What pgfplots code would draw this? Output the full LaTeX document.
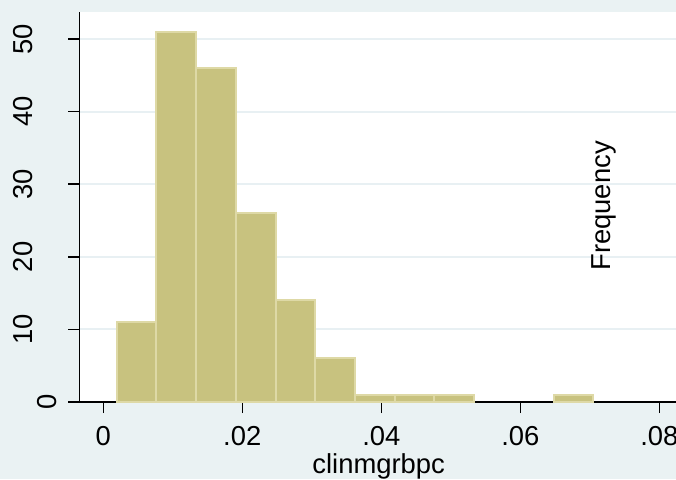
\documentclass[border=0pt]{standalone}
\usepackage{pgfplots}
\pgfplotsset{compat=1.18}
\usepackage{fontspec}
\setmainfont{Liberation Sans}

\definecolor{regionbg}{RGB}{234,242,243}
\definecolor{gridcol}{RGB}{232,240,243}
\definecolor{barfill}{RGB}{200,194,127}
\definecolor{baredge}{RGB}{222,217,166}

\newcommand{\chartfont}{\fontsize{13.7}{16}\selectfont}

\begin{document}
\begin{tikzpicture}
\useasboundingbox (0,0) rectangle (338pt,239.5pt);
\fill[regionbg] (0,0) rectangle (338pt,239.5pt);
\begin{axis}[
  at={(39.65pt,38.5pt)}, anchor=south west,
  scale only axis,
  width=299.35pt, height=195.15pt,
  xmin=-0.00345, xmax=0.08269,
  ymin=0, ymax=53.76,
  axis background/.style={fill=white},
  axis x line*=bottom, axis y line*=left,
  axis line style={-, black, line width=0.75pt},
  tick align=outside,
  major tick length=5.5pt,
  tick style={black, line width=0.75pt},
  scaled x ticks=false,
  xtick={0,0.02,0.04,0.06,0.08},
  xticklabels={0,.02,.04,.06,.08},
  ytick={0,10,20,30,40,50},
  % the single-digit label sits closer to the axis
  yticklabels={\raisebox{-11.85pt}[\height][0pt]{0},10,20,30,40,50},
  ymajorgrids,
  grid style={gridcol, line width=1pt},
  /pgf/number format/assume math mode=true,
  tick label style={font=\chartfont, inner sep=0pt},
  xticklabel style={anchor=base},
  xticklabel shift=16pt,
  yticklabel style={rotate=90, anchor=south},
  yticklabel shift=17.5pt,
  xlabel={clinmgrbpc},
  ylabel={Frequency},
  label style={font=\chartfont, inner sep=0pt},
  xlabel style={at={(axis description cs:0.5,0)}, anchor=base, yshift=-35.5pt},
  ylabel style={at={(axis description cs:0.8878,0.5022)}, anchor=base},
]
% histogram bins of width 0.005715 starting at 0.00193
\addplot[ybar interval, fill=barfill, draw=baredge, line width=1pt] coordinates {
  (0.00193,11) (0.007645,51) (0.01336,46) (0.019075,26) (0.02479,14)
  (0.030505,6) (0.03622,1) (0.041935,1) (0.04765,1) (0.053365,0)
};
\addplot[ybar interval, fill=barfill, draw=baredge, line width=1pt] coordinates {
  (0.064795,1) (0.07051,0)
};
\end{axis}
\end{tikzpicture}
\end{document}
